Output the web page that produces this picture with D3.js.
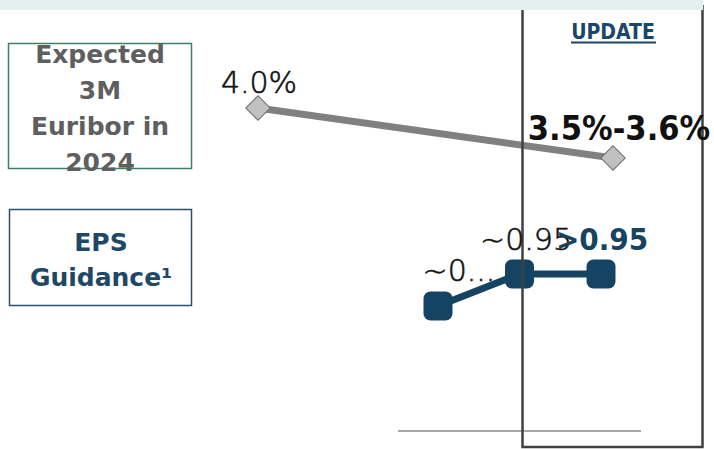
<!DOCTYPE html>
<html>
<head>
<meta charset="utf-8">
<script src="https://cdn.jsdelivr.net/npm/d3@7/dist/d3.min.js"></script>
<style>
  html, body { margin: 0; padding: 0; background: #ffffff; }
  svg { display: block; }
</style>
</head>
<body>
<svg id="chart" width="714" height="449"></svg>
<script>
// Expected 3M Euribor for 2024: previous guidance vs. update (midpoint of 3.5%-3.6% range)
const euriborPeriods = ["Previous", "Update"];
const euriborValues = [4.0, 3.55];
const euriborLabels = ["4.0%", "3.5%-3.6%"];

// EPS guidance over three revisions
const epsPeriods = ["Initial", "Previous", "Update"];
const epsValues = [0.85, 0.95, 0.95];
const epsLabels = ["~0...", "~0.95", ">0.95"];

const rowTitles = [["Expected", "3M", "Euribor in", "2024"], ["EPS", "Guidance\u00B9"]];

const svg = d3.select("#chart");
const lightFont = "'DejaVu Sans', sans-serif";
const boldFont = "'DejaVu Sans', sans-serif";
const condFont = "'DejaVu Sans Condensed', 'DejaVu Sans', sans-serif";

// Light-weight value label with a slightly thickened stroke
function lightLabel(x, y, text) {
  return svg.append("text").attr("x", x).attr("y", y).attr("text-anchor", "middle")
    .attr("font-family", lightFont).attr("font-weight", 200).attr("font-size", 30)
    .attr("fill", "#111").attr("stroke", "#111").attr("stroke-width", 0.6)
    .text(text);
}

// Row title boxes
svg.append("rect").attr("x", 8.5).attr("y", 43.5).attr("width", 183).attr("height", 125)
  .attr("fill", "none").attr("stroke", "#3f7f66").attr("stroke-width", 1.5);
svg.append("text").attr("text-anchor", "middle").attr("font-family", boldFont).attr("font-weight", 700)
  .attr("font-size", 25).attr("fill", "#5f5f5f")
  .selectAll("tspan").data(rowTitles[0]).join("tspan")
  .attr("x", 100).attr("y", (d, i) => 63 + i * 36).text(d => d);

svg.append("rect").attr("x", 9.5).attr("y", 209.5).attr("width", 182).attr("height", 96)
  .attr("fill", "none").attr("stroke", "#2b4f6e").attr("stroke-width", 1.5);
svg.append("text").attr("text-anchor", "middle").attr("font-family", boldFont).attr("font-weight", 700)
  .attr("font-size", 25).attr("fill", "#1f4766")
  .selectAll("tspan").data(rowTitles[1]).join("tspan")
  .attr("x", 101).attr("y", (d, i) => 251 + i * 35).text(d => d);

// Scales
const xEur = d3.scalePoint().domain(euriborPeriods).range([258, 613]);
const yEur = d3.scaleLinear().domain([3.55, 4.0]).range([158, 108]);
const xEps = d3.scalePoint().domain(epsPeriods).range([438, 601]);
const yEps = d3.scaleLinear().domain([0.85, 0.95]).range([306, 274]);

// Baseline rule
svg.append("line").attr("x1", 398).attr("x2", 641).attr("y1", 431).attr("y2", 431)
  .attr("stroke", "#a6a6a6").attr("stroke-width", 2);

// Euribor series
const eurData = euriborPeriods.map((p, i) => ({ p, v: euriborValues[i], label: euriborLabels[i] }));
svg.append("path").datum(eurData)
  .attr("d", d3.line().x(d => xEur(d.p)).y(d => yEur(d.v)))
  .attr("fill", "none").attr("stroke", "#808080").attr("stroke-width", 7);
svg.selectAll(".eur-pt").data(eurData).join("path").attr("class", "eur-pt")
  .attr("d", d3.symbol(d3.symbolSquare, 300))
  .attr("transform", d => `translate(${xEur(d.p)},${yEur(d.v)}) rotate(45)`)
  .attr("fill", "#c0c0c0").attr("stroke", "#6b6b6b").attr("stroke-width", 1);

// EPS series
const epsData = epsPeriods.map((p, i) => ({ p, v: epsValues[i], label: epsLabels[i] }));
svg.append("path").datum(epsData)
  .attr("d", d3.line().x(d => xEps(d.p)).y(d => yEps(d.v)))
  .attr("fill", "none").attr("stroke", "#154463").attr("stroke-width", 7);
const side = 29;
svg.selectAll(".eps-pt").data(epsData).join("rect").attr("class", "eps-pt")
  .attr("x", d => xEps(d.p) - side / 2).attr("y", d => yEps(d.v) - side / 2)
  .attr("width", side).attr("height", side).attr("rx", 7)
  .attr("fill", "#154463");

// Update column frame
svg.append("rect").attr("x", 522.5).attr("y", 6).attr("width", 180).attr("height", 441)
  .attr("fill", "none").attr("stroke", "#404040").attr("stroke-width", 2.5);

// Header band (drawn over the frame top)
svg.append("rect").attr("x", 0).attr("y", 0).attr("width", 703).attr("height", 10).attr("fill", "#e5eef0");

// Column header
svg.append("text").attr("x", 613).attr("y", 39).attr("text-anchor", "middle")
  .attr("font-family", condFont).attr("font-weight", 700).attr("font-size", 21)
  .attr("fill", "#1a4668").text("UPDATE");
svg.append("line").attr("x1", 571).attr("x2", 656).attr("y1", 42.5).attr("y2", 42.5)
  .attr("stroke", "#1a4668").attr("stroke-width", 2);

// Value labels
lightLabel(259, 93, eurData[0].label);
svg.append("text").attr("x", 619).attr("y", 140).attr("text-anchor", "middle")
  .attr("font-family", condFont).attr("font-weight", 700).attr("font-size", 34)
  .attr("fill", "#111").text(eurData[1].label);

lightLabel(459, 281, epsData[0].label);
lightLabel(526, 250, epsData[1].label);
svg.append("text").attr("x", 602).attr("y", 250).attr("text-anchor", "middle")
  .attr("font-family", condFont).attr("font-weight", 700).attr("font-size", 31)
  .attr("fill", "#154463").text(epsData[2].label);
</script>
</body>
</html>
